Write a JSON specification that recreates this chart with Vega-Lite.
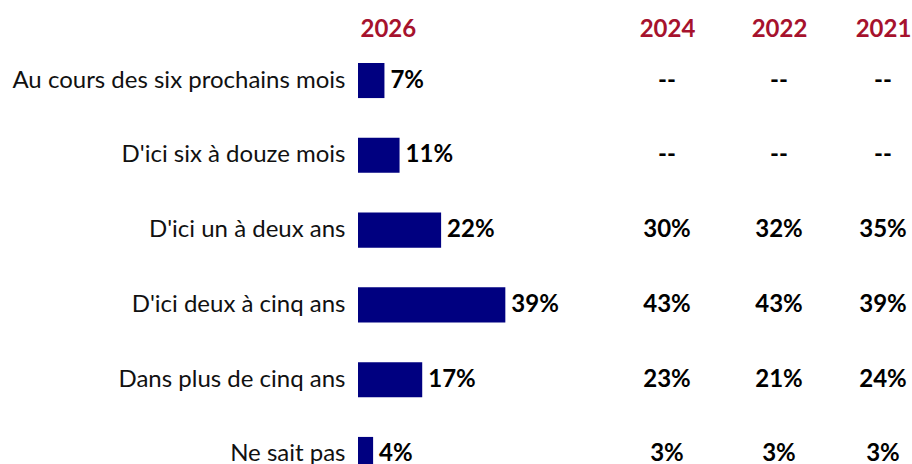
{
  "$schema": "https://vega.github.io/schema/vega-lite/v6.json",
  "background": "white",
  "padding": {"left": 10, "top": 17, "right": 0, "bottom": 0},
  "spacing": 0,
  "config": {"view": {"stroke": null}, "font": "Lato", "axis": {"grid": false}},
  "datasets": {
    "survey": [
      {"cat": "Au cours des six prochains mois", "year": "2026", "value": 0.07},
      {"cat": "D'ici six à douze mois", "year": "2026", "value": 0.11},
      {"cat": "D'ici un à deux ans", "year": "2026", "value": 0.22},
      {"cat": "D'ici deux à cinq ans", "year": "2026", "value": 0.39},
      {"cat": "Dans plus de cinq ans", "year": "2026", "value": 0.17},
      {"cat": "Ne sait pas", "year": "2026", "value": 0.04},
      {"cat": "Au cours des six prochains mois", "year": "2024", "value": null},
      {"cat": "D'ici six à douze mois", "year": "2024", "value": null},
      {"cat": "D'ici un à deux ans", "year": "2024", "value": 0.30},
      {"cat": "D'ici deux à cinq ans", "year": "2024", "value": 0.43},
      {"cat": "Dans plus de cinq ans", "year": "2024", "value": 0.23},
      {"cat": "Ne sait pas", "year": "2024", "value": 0.03},
      {"cat": "Au cours des six prochains mois", "year": "2022", "value": null},
      {"cat": "D'ici six à douze mois", "year": "2022", "value": null},
      {"cat": "D'ici un à deux ans", "year": "2022", "value": 0.32},
      {"cat": "D'ici deux à cinq ans", "year": "2022", "value": 0.43},
      {"cat": "Dans plus de cinq ans", "year": "2022", "value": 0.21},
      {"cat": "Ne sait pas", "year": "2022", "value": 0.03},
      {"cat": "Au cours des six prochains mois", "year": "2021", "value": null},
      {"cat": "D'ici six à douze mois", "year": "2021", "value": null},
      {"cat": "D'ici un à deux ans", "year": "2021", "value": 0.35},
      {"cat": "D'ici deux à cinq ans", "year": "2021", "value": 0.39},
      {"cat": "Dans plus de cinq ans", "year": "2021", "value": 0.24},
      {"cat": "Ne sait pas", "year": "2021", "value": 0.03}
    ]
  },
  "data": {"name": "survey"},
  "resolve": {"scale": {"y": "independent", "x": "independent"}},
  "hconcat": [
    {
      "width": 272,
      "height": 409,
      "transform": [{"filter": "datum.year === '2026'"}],
      "encoding": {
        "y": {
          "field": "cat", "type": "nominal",
          "scale": {"type": "band", "domain": ["Au cours des six prochains mois", "D'ici six à douze mois", "D'ici un à deux ans", "D'ici deux à cinq ans", "Dans plus de cinq ans", "Ne sait pas"], "paddingInner": 0.531, "paddingOuter": 0},
          "axis": {"title": null, "ticks": false, "domain": false, "labelFont": "Lato", "labelFontSize": 24, "labelColor": "#111111", "labelPadding": 13, "labelLimit": 400, "minExtent": 348, "maxExtent": 348}
        }
      },
      "layer": [
        {
          "mark": {"type": "bar", "color": "#000080"},
          "encoding": {
            "x": {
              "field": "value", "type": "quantitative",
              "scale": {"domain": [0, 0.72], "nice": false},
              "axis": {"orient": "top", "labels": false, "ticks": false, "tickSize": 0, "domain": false, "grid": false, "minExtent": 0, "maxExtent": 0, "title": "2026", "titleFont": "Lato", "titleFontSize": 24, "titleFontWeight": "bold", "titleColor": "#A6122D", "titleAlign": "left", "titleAnchor": "start", "titleBaseline": "alphabetic", "titleX": 2, "titleY": -27}
            }
          }
        },
        {
          "mark": {"type": "text", "align": "left", "baseline": "middle", "dx": 6, "font": "Lato", "fontSize": 24, "fontWeight": "bold", "color": "#000000"},
          "encoding": {
            "x": {"field": "value", "type": "quantitative"},
            "text": {"field": "value", "type": "quantitative", "format": ".0%"}
          }
        }
      ]
    },
    {
      "width": 74,
      "height": 409,
      "transform": [{"filter": "datum.year === '2024'"}],
      "mark": {"type": "text", "baseline": "middle", "font": "Lato", "fontSize": 24, "fontWeight": "bold", "color": "#000000"},
      "encoding": {
        "x": {"field": "year", "type": "nominal", "axis": {"orient": "top", "title": null, "ticks": false, "tickSize": 0, "domain": false, "labelAngle": 0, "labelFont": "Lato", "labelFontSize": 24, "labelFontWeight": "bold", "labelColor": "#A6122D", "labelBaseline": "alphabetic", "labelPadding": 27}},
        "y": {"field": "cat", "type": "nominal", "scale": {"type": "band", "domain": ["Au cours des six prochains mois", "D'ici six à douze mois", "D'ici un à deux ans", "D'ici deux à cinq ans", "Dans plus de cinq ans", "Ne sait pas"], "paddingInner": 0.531, "paddingOuter": 0}, "axis": null},
        "text": {"condition": {"test": "datum.value === null", "value": "--"}, "field": "value", "type": "quantitative", "format": ".0%"}
      }
    },
    {
      "width": 150,
      "height": 409,
      "transform": [{"filter": "datum.year === '2022'"}],
      "mark": {"type": "text", "baseline": "middle", "font": "Lato", "fontSize": 24, "fontWeight": "bold", "color": "#000000"},
      "encoding": {
        "x": {"field": "year", "type": "nominal", "axis": {"orient": "top", "title": null, "ticks": false, "tickSize": 0, "domain": false, "labelAngle": 0, "labelFont": "Lato", "labelFontSize": 24, "labelFontWeight": "bold", "labelColor": "#A6122D", "labelBaseline": "alphabetic", "labelPadding": 27}},
        "y": {"field": "cat", "type": "nominal", "scale": {"type": "band", "domain": ["Au cours des six prochains mois", "D'ici six à douze mois", "D'ici un à deux ans", "D'ici deux à cinq ans", "Dans plus de cinq ans", "Ne sait pas"], "paddingInner": 0.531, "paddingOuter": 0}, "axis": null},
        "text": {"condition": {"test": "datum.value === null", "value": "--"}, "field": "value", "type": "quantitative", "format": ".0%"}
      }
    },
    {
      "width": 58,
      "height": 409,
      "transform": [{"filter": "datum.year === '2021'"}],
      "mark": {"type": "text", "baseline": "middle", "font": "Lato", "fontSize": 24, "fontWeight": "bold", "color": "#000000"},
      "encoding": {
        "x": {"field": "year", "type": "nominal", "axis": {"orient": "top", "title": null, "ticks": false, "tickSize": 0, "domain": false, "labelAngle": 0, "labelFont": "Lato", "labelFontSize": 24, "labelFontWeight": "bold", "labelColor": "#A6122D", "labelBaseline": "alphabetic", "labelPadding": 27}},
        "y": {"field": "cat", "type": "nominal", "scale": {"type": "band", "domain": ["Au cours des six prochains mois", "D'ici six à douze mois", "D'ici un à deux ans", "D'ici deux à cinq ans", "Dans plus de cinq ans", "Ne sait pas"], "paddingInner": 0.531, "paddingOuter": 0}, "axis": null},
        "text": {"condition": {"test": "datum.value === null", "value": "--"}, "field": "value", "type": "quantitative", "format": ".0%"}
      }
    }
  ]
}
